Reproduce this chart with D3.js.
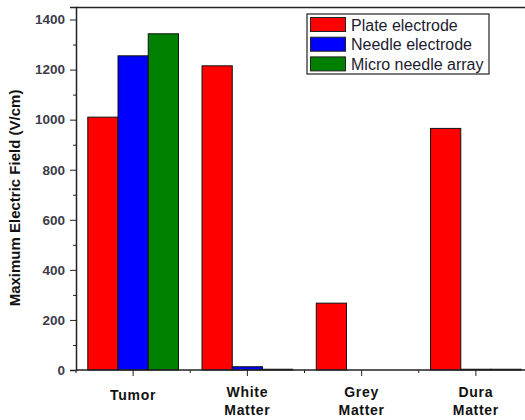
<!DOCTYPE html>
<html>
<head>
<meta charset="utf-8">
<script src="https://cdn.jsdelivr.net/npm/d3@7"></script>
<style>
  body { margin: 0; background: white; }
  svg { display: block; font-family: "Liberation Sans", Arial, sans-serif; }
</style>
</head>
<body>
<div id="chart"></div>
<script>
const categories = ['Tumor', 'White Matter', 'Grey Matter', 'Dura Matter']
const seriesNames = ['Plate electrode', 'Needle electrode', 'Micro needle array']
const plateValues = [1010, 1215, 267, 965]
const needleValues = [1255, 13, 0, 3]
const microValues = [1343, 3, 0, 3]
const yTicks = [0, 200, 400, 600, 800, 1000, 1200, 1400]
const yMinorTicks = [100, 300, 500, 700, 900, 1100, 1300]

const colors = ['#ff0000', '#0000ff', '#008000']
const seriesValues = [plateValues, needleValues, microValues]

const width = 525, height = 420
const plotLeft = 76, plotTop = 7, plotRight = 533, plotBottom = 370

const svg = d3.select('#chart').append('svg')
    .attr('width', width)
    .attr('height', height)

const x0 = d3.scaleBand().domain(categories).range([plotLeft, plotRight]).padding(0)
const x1 = d3.scaleBand().domain(seriesNames).range([0, x0.bandwidth()])
    .paddingInner(0).paddingOuter(0.39)
const y = d3.scaleLinear().domain([0, 1450]).range([plotBottom, plotTop])

// bars
const groups = svg.selectAll('g.cat')
    .data(categories)
    .enter()
    .append('g')
    .attr('class', 'cat')
    .attr('transform', d => `translate(${x0(d)},0)`)

groups.each(function(cat, ci) {
    d3.select(this).selectAll('rect')
        .data(seriesNames)
        .enter()
        .append('rect')
        .attr('x', s => x1(s))
        .attr('y', (s, si) => y(seriesValues[si][ci]))
        .attr('width', x1.bandwidth())
        .attr('height', (s, si) => plotBottom - y(seriesValues[si][ci]))
        .attr('fill', (s, si) => colors[si])
        .attr('stroke', '#111')
        .attr('stroke-width', 1)
})

// frame line on top
svg.append('line')
    .attr('x1', plotLeft).attr('x2', plotRight)
    .attr('y1', plotTop + 0.5).attr('y2', plotTop + 0.5)
    .attr('stroke', '#222').attr('stroke-width', 1.5)

// y axis
const yAxis = svg.append('g')
    .attr('transform', `translate(${plotLeft},0)`)
    .call(d3.axisLeft(y).tickValues(yTicks).tickSize(6).tickPadding(5).tickFormat(d3.format('d')))
yAxis.select('.domain').attr('stroke', '#222').attr('stroke-width', 1.5)
yAxis.selectAll('.tick line').attr('stroke', '#222')
yAxis.selectAll('.tick text')
    .attr('font-size', 13.5)
    .attr('font-weight', 'bold')
    .attr('fill', '#3c3c48')
    .attr('font-family', '"Liberation Sans", Arial, sans-serif')

const yMinor = svg.append('g')
    .attr('transform', `translate(${plotLeft},0)`)
    .call(d3.axisLeft(y).tickValues(yMinorTicks).tickSize(3).tickFormat(''))
yMinor.select('.domain').remove()
yMinor.selectAll('.tick line').attr('stroke', '#222')

// x axis
svg.append('line')
    .attr('x1', plotLeft).attr('x2', plotRight)
    .attr('y1', plotBottom).attr('y2', plotBottom)
    .attr('stroke', '#222').attr('stroke-width', 1.5)

svg.selectAll('line.xmajor')
    .data(categories)
    .enter()
    .append('line')
    .attr('class', 'xmajor')
    .attr('x1', d => x0(d) + x0.bandwidth() / 2)
    .attr('x2', d => x0(d) + x0.bandwidth() / 2)
    .attr('y1', plotBottom).attr('y2', plotBottom + 6)
    .attr('stroke', '#222')

svg.selectAll('line.xminor')
    .data(categories)
    .enter()
    .append('line')
    .attr('class', 'xminor')
    .attr('x1', d => x0(d))
    .attr('x2', d => x0(d))
    .attr('y1', plotBottom).attr('y2', plotBottom + 3)
    .attr('stroke', '#222')

// category labels
svg.selectAll('text.cat')
    .data(categories)
    .enter()
    .append('text')
    .attr('class', 'cat')
    .attr('x', d => x0(d) + x0.bandwidth() / 2)
    .attr('y', 400)
    .attr('text-anchor', 'middle')
    .attr('font-size', 14)
    .attr('letter-spacing', 0.7)
    .attr('font-weight', 'bold')
    .attr('fill', '#111')
    .each(function(d) {
        const words = d.split(' ')
        d3.select(this).selectAll('tspan')
            .data(words)
            .enter()
            .append('tspan')
            .attr('x', x0(d) + x0.bandwidth() / 2)
            .attr('dy', (w, i) => i === 0 ? (words.length > 1 ? -3 : 0) : 18)
            .text(w => w)
    })

// y title
svg.append('text')
    .attr('transform', 'translate(20,198) rotate(-90)')
    .attr('text-anchor', 'middle')
    .attr('font-size', 15)
    .attr('font-weight', 'bold')
    .attr('fill', '#111')
    .text('Maximum Electric Field (V/cm)')

// legend
const legend = svg.append('g').attr('transform', 'translate(307,14)')
legend.append('rect')
    .attr('x', 0).attr('y', 0)
    .attr('width', 182).attr('height', 60)
    .attr('fill', 'white')
    .attr('stroke', '#222').attr('stroke-width', 1.2)

seriesNames.forEach((s, i) => {
    legend.append('rect')
        .attr('x', 3.5).attr('y', 3.5 + i * 19.7)
        .attr('width', 35).attr('height', 14)
        .attr('fill', colors[i])
        .attr('stroke', '#222')
    legend.append('text')
        .attr('x', 44).attr('y', 16.5 + i * 19.7)
        .attr('font-size', 16)
        .attr('fill', '#1c1c30')
        .text(s)
})
</script>
</body>
</html>
